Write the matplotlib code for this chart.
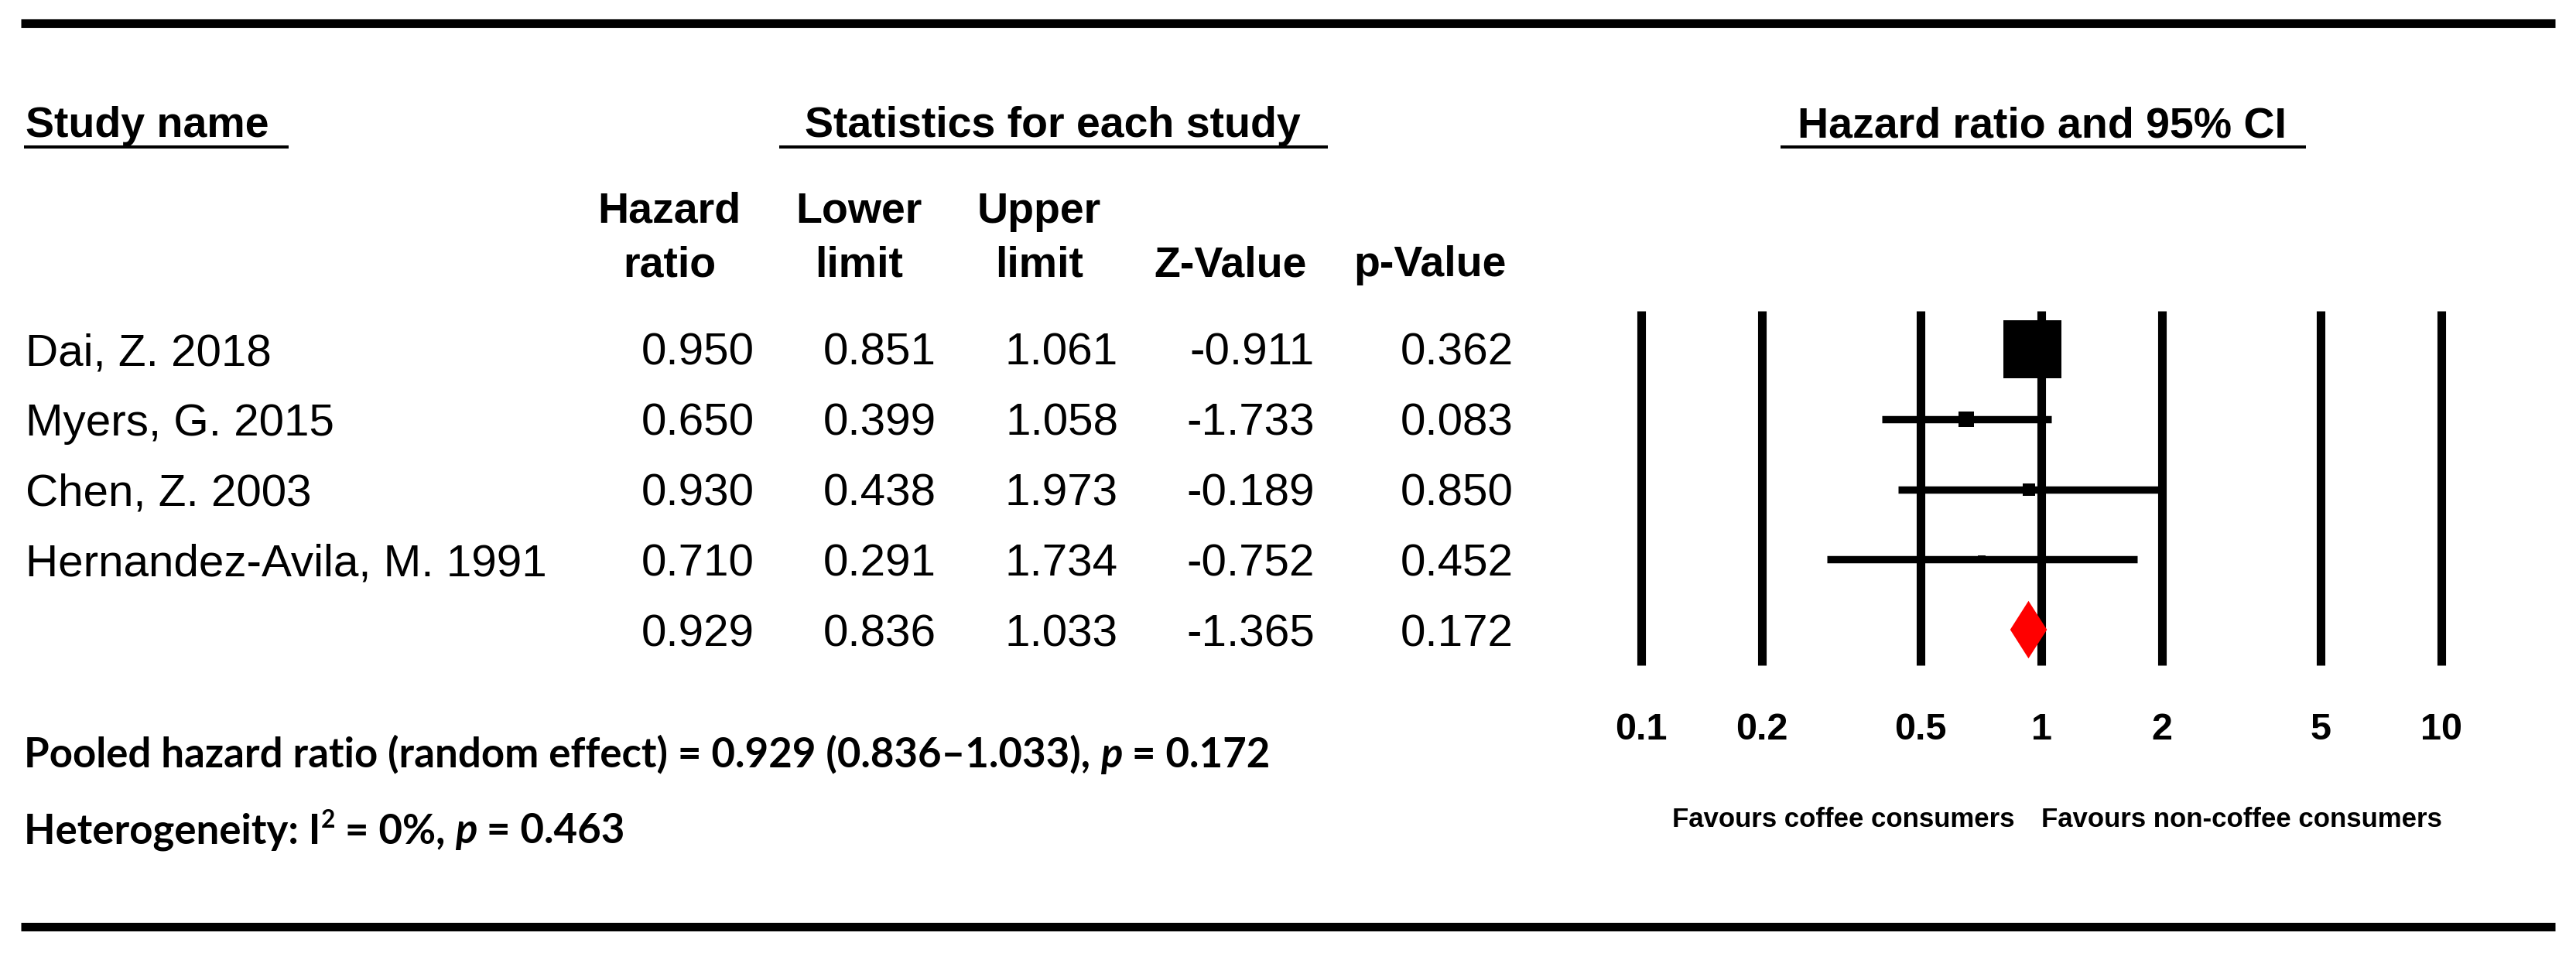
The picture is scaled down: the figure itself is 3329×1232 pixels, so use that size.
import numpy as np
import matplotlib.pyplot as plt
from matplotlib.ticker import NullLocator

# study level data
studies = ["Dai, Z. 2018", "Myers, G. 2015", "Chen, Z. 2003", "Hernandez-Avila, M. 1991"]
hazard_ratio = [0.950, 0.650, 0.930, 0.710]
lower_limit = [0.851, 0.399, 0.438, 0.291]
upper_limit = [1.061, 1.058, 1.973, 1.734]
z_value = [-0.911, -1.733, -0.189, -0.752]
p_value = [0.362, 0.083, 0.850, 0.452]
weights = [88.9, 6.3, 3.6, 1.5]  # relative weights

# pooled (random effect) result
pooled_hr = 0.929
pooled_lower = 0.836
pooled_upper = 1.033
pooled_z = -1.365
pooled_p = 0.172
i_squared = 0
heterogeneity_p = 0.463

axis_ticks = [0.1, 0.2, 0.5, 1, 2, 5, 10]
axis_labels = ["0.1", "0.2", "0.5", "1", "2", "5", "10"]
header_top = ["Hazard", "Lower", "Upper", "", ""]
header_bottom = ["ratio", "limit", "limit", "Z-Value", "p-Value"]
favours_left = "Favours coffee consumers"
favours_right = "Favours non-coffee consumers"

W, H = 3329, 1232
SANS = "Liberation Sans"
NOTE_FONT = "Lato"

fig = plt.figure(figsize=(W / 100, H / 100), dpi=100)
bg = fig.add_axes([0, 0, 1, 1])
bg.set_xlim(0, W)
bg.set_ylim(H, 0)
bg.axis("off")

row0, pitch = 451, 90.75
col_right = [975, 1210, 1445, 1699, 1956]
col_center = [865, 1110, 1343, 1590, 1848]


def rule(x0, x1, y, lw):
    bg.plot([x0, x1], [y, y], color="black", lw=lw, solid_capstyle="butt")


# frame rules
rule(27, 3302, 30, 8)
rule(27, 3302, 1198, 8)

# group headers
hdr = dict(fontsize=40, fontweight="bold", family=SANS, va="baseline")
bg.text(33, 177, "Study name", ha="left", **hdr)
rule(31, 373, 190, 2.9)
bg.text(1360, 177, "Statistics for each study", ha="center", **hdr)
rule(1007, 1716, 190, 2.9)
bg.text(2639, 177, "Hazard ratio and 95% CI", ha="center", **hdr)
rule(2301, 2980, 190, 2.9)

for cx, top, bottom in zip(col_center, header_top, header_bottom):
    if top:
        bg.text(cx, 288, top, ha="center", **hdr)
    bg.text(cx, 357, bottom, ha="center", **hdr)

# table body
cell = dict(fontsize=42, family=SANS, va="baseline")
columns = [hazard_ratio, lower_limit, upper_limit, z_value, p_value]
for i, name in enumerate(studies):
    y = row0 + pitch * i + 21
    bg.text(33, y, name, ha="left", **cell)
    for x, col in zip(col_right, columns):
        bg.text(x, y, f"{col[i]:.3f}", ha="right", **cell)

pooled_row = [pooled_hr, pooled_lower, pooled_upper, pooled_z, pooled_p]
y = row0 + pitch * len(studies) + 21
for x, v in zip(col_right, pooled_row):
    bg.text(x, y, f"{v:.3f}", ha="right", **cell)

# notes with mixed styles
renderer = fig.canvas.get_renderer()


def text_width(s, **kw):
    a = bg.text(0, 0, "|" + s + "|", **kw)
    b = bg.text(0, 0, "||", **kw)
    w = a.get_window_extent(renderer).width - b.get_window_extent(renderer).width
    a.remove()
    b.remove()
    return w


def draw_runs(x, y, runs):
    for s, kw, dy in runs:
        bg.text(x, y - dy, s, va="baseline", ha="left", **kw)
        x += text_width(s, **kw)


note_size = 38
bold = dict(family=NOTE_FONT, fontweight="bold", fontsize=note_size)
bold_it = dict(bold, style="italic")
sup = dict(bold, fontsize=note_size * 0.6)

draw_runs(31, 992, [
    (f"Pooled hazard ratio (random effect) = {pooled_hr:.3f} "
     f"({pooled_lower:.3f}\u2013{pooled_upper:.3f}), ", bold, 0),
    ("p", bold_it, 0),
    (f" = {pooled_p:.3f}", bold, 0),
])
draw_runs(31, 1090, [
    ("Heterogeneity: I", bold, 0),
    ("2", sup, 20),
    (f" = {i_squared}%, ", bold, 0),
    ("p", bold_it, 0),
    (f" = {heterogeneity_p:.3f}", bold, 0),
])

# forest plot
top_px, bot_px = 402, 860
left_px, right_px = 2121, 3155
ax = fig.add_axes([left_px / W, 1 - bot_px / H,
                   (right_px - left_px) / W, (bot_px - top_px) / H])
ax.set_xscale("log")
ax.set_xlim(0.1, 10)
ax.set_ylim((bot_px - row0) / pitch, (top_px - row0) / pitch)
ax.patch.set_alpha(0)
for s in ax.spines.values():
    s.set_visible(False)

for t in axis_ticks:
    ax.axvline(t, color="black", lw=8, clip_on=False, solid_capstyle="butt")

rows = np.arange(len(studies))
ax.hlines(rows, lower_limit, upper_limit, colors="black", lw=6.8, capstyle="butt")
max_w = max(weights)
for r, hr, w in zip(rows, hazard_ratio, weights):
    ax.plot(hr, r, marker="s", ms=54 * np.sqrt(w / max_w), color="black", mew=0)

pr = len(studies)
half = 0.41
ax.fill([pooled_lower, pooled_hr, pooled_upper, pooled_hr],
        [pr, pr - half, pr, pr + half], color="#ff0000", lw=0, zorder=3)

ax.set_xticks(axis_ticks, labels=axis_labels, fontsize=35, fontweight="bold", family=SANS)
ax.xaxis.set_minor_locator(NullLocator())
ax.tick_params(axis="x", length=0, pad=44)
ax.set_yticks([])

fav = dict(xycoords=("data", "axes fraction"), textcoords="offset points",
           va="baseline", fontsize=25, fontweight="bold", family=SANS)
ax.annotate(favours_left, xy=(1, 0), xytext=(-24.5, -150.5), ha="right", **fav)
ax.annotate(favours_right, xy=(1, 0), xytext=(0, -150.5), ha="left", **fav)

fig.savefig("out.png", dpi=100)
